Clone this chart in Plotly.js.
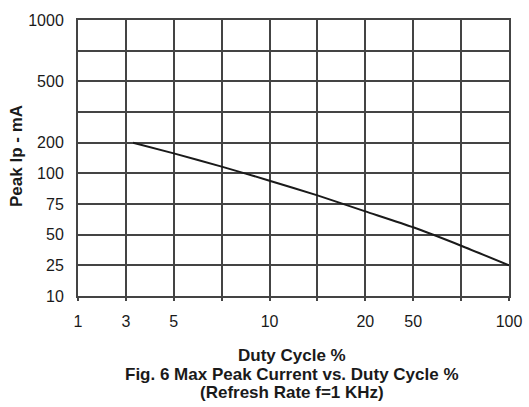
<!DOCTYPE html>
<html><head><meta charset="utf-8">
<script src="https://cdn.plot.ly/plotly-3.0.1.min.js"></script>
<style>html,body{margin:0;padding:0;background:#fff}#chart{width:529px;height:407px}</style>
</head><body><div id="chart"></div>
<script>
// Tick labels of the duty-cycle axis and the grid column each one sits on
const xTickLabels = ['1', '3', '5', '10', '20', '50', '100'];
const xTickValues = [1, 3, 5, 10, 20, 50, 100];
const xTickSlots = [0, 1, 2, 4, 6, 7, 9];
// Tick labels of the peak-current axis and the grid row each one sits on
const yTickLabels = ['10', '25', '50', '75', '100', '200', '500', '1000'];
const yTickValues = [10, 25, 50, 75, 100, 200, 500, 1000];
const yTickSlots = [0, 1, 2, 3, 4, 5, 7, 9];
// Curve: max peak current (mA) vs duty cycle (%)
const dutyCycle = [3.3, 5, 7.5, 10, 15, 20, 50, 75, 100];
const peakCurrent = [200, 165, 122, 94, 82, 69, 56, 41, 25];

// piecewise scale of the printed chart (value -> grid slot)
function toSlot(v, vals, slots) {
  for (let i = 0; i < vals.length - 1; i++) {
    if (v <= vals[i + 1]) {
      const t = (v - vals[i]) / (vals[i + 1] - vals[i]);
      return slots[i] + t * (slots[i + 1] - slots[i]);
    }
  }
  return slots[slots.length - 1];
}
function gridTicks(labels, slots, n) {
  const vals = [], text = [];
  for (let i = 0; i <= n; i++) {
    vals.push(i);
    const k = slots.indexOf(i);
    text.push(k >= 0 ? labels[k] : '');
  }
  return {vals, text};
}
const xt = gridTicks(xTickLabels, xTickSlots, 9);
const yt = gridTicks(yTickLabels, yTickSlots, 9);

const trace = {
  x: dutyCycle.map(v => toSlot(v, xTickValues, xTickSlots)),
  y: peakCurrent.map(v => toSlot(v, yTickValues, yTickSlots)),
  mode: 'lines', type: 'scatter',
  line: {color: '#1a1a1a', width: 2, shape: 'spline', smoothing: 0.6},
  hoverinfo: 'skip'
};
const gridCol = '#444444';
const tickFont = {family: 'Liberation Sans, Arial, sans-serif', size: 16, color: '#1a1a1a'};
const boldFont = {family: 'Liberation Sans, Arial, sans-serif', size: 17, color: '#1a1a1a', weight: 'bold'};
const layout = {
  width: 529, height: 407,
  margin: {l: 78, r: 20, t: 20, b: 111},
  paper_bgcolor: '#fff', plot_bgcolor: '#fff',
  showlegend: false,
  xaxis: {
    range: [0, 9], tickmode: 'array', tickvals: xt.vals, ticktext: xt.text,
    showgrid: true, gridcolor: gridCol, gridwidth: 2, zeroline: false,
    showline: true, mirror: true, linecolor: gridCol, linewidth: 2,
    ticks: 'outside', ticklen: 3, tickcolor: gridCol, tickwidth: 2,
    ticklabelstandoff: 7,
    tickfont: tickFont, fixedrange: true
  },
  yaxis: {
    range: [0, 9], tickmode: 'array', tickvals: yt.vals, ticktext: yt.text,
    showgrid: true, gridcolor: gridCol, gridwidth: 2, zeroline: false,
    showline: true, mirror: true, linecolor: gridCol, linewidth: 2,
    ticks: '', ticklabelstandoff: 9, tickfont: tickFont, fixedrange: true
  },
  annotations: [
    {text: 'Peak Ip - mA', xref: 'paper', yref: 'paper', x: 0, y: 0.5, xshift: -62, yshift: 2,
     textangle: -90, showarrow: false, font: boldFont, xanchor: 'center', yanchor: 'middle'},
    {text: 'Duty Cycle %', xref: 'paper', yref: 'paper', x: 0.5, y: 0, yshift: -59, xshift: -2,
     showarrow: false, font: boldFont, xanchor: 'center', yanchor: 'middle'},
    {text: 'Fig. 6 Max Peak Current vs. Duty Cycle %', xref: 'paper', yref: 'paper', x: 0.5, y: 0, yshift: -78, xshift: -2,
     showarrow: false, font: boldFont, xanchor: 'center', yanchor: 'middle'},
    {text: '(Refresh Rate f=1 KHz)', xref: 'paper', yref: 'paper', x: 0.5, y: 0, yshift: -96, xshift: -2,
     showarrow: false, font: boldFont, xanchor: 'center', yanchor: 'middle'}
  ]
};
Plotly.newPlot('chart', [trace], layout, {displayModeBar: false, staticPlot: true});
</script>
</body></html>
